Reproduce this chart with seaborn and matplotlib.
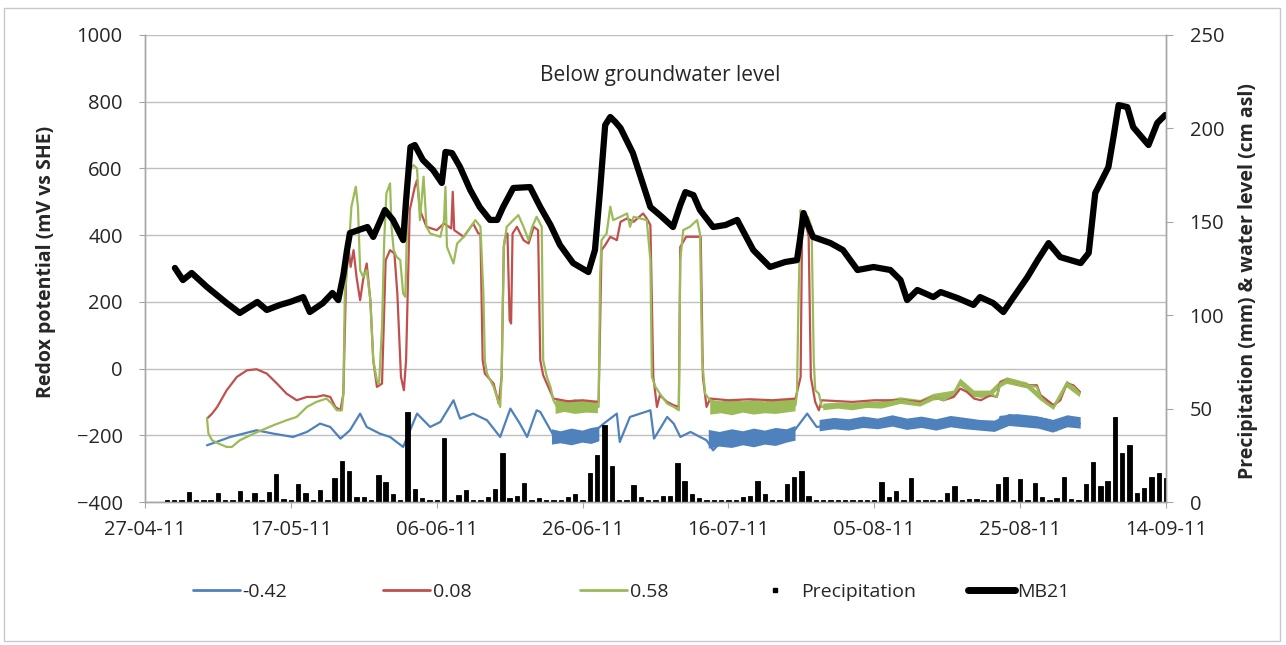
import numpy as np
import pandas as pd
import matplotlib
matplotlib.use("Agg")
import matplotlib.pyplot as plt
import matplotlib.dates as mdates
from matplotlib.lines import Line2D
from matplotlib.patches import Rectangle
import seaborn as sns

START = pd.Timestamp("2011-04-27")
nan = np.nan

# redox traces, (days after 27-04-11, mV vs SHE)
blue_trace = [
    (8.5, -230), (9.8, -220), (11.7, -205), (15.3, -185), (17.6, -195), (20.3, -205), (22.2, -190), (24.0, -165),
    (25.4, -175), (26.8, -210), (28.1, -185), (29.5, -135), (30.4, -175), (32.2, -195), (33.6, -205), (35.4, -235),
    (37.3, -135), (39.1, -175), (40.5, -160), (42.3, -95), (43.2, -150), (45.0, -135), (46.9, -155), (48.7, -205),
    (50.1, -120), (51.4, -165), (52.4, -205), (53.7, -125), (54.2, -130), (56.0, -200), (58.8, -205), (61.0, -200),
    (62.9, -165), (64.7, -135), (65.1, -220), (66.5, -145), (69.3, -125), (69.8, -210), (71.6, -145), (72.5, -165),
    (73.4, -205), (74.8, -190), (77.0, -215), (77.9, -245), (79.8, -200), (82.5, -210), (86.2, -200), (88.9, -190),
    (90.8, -135), (92.1, -175), (94.0, -170), (99.9, -165), (103.6, -150), (106.3, -165), (109.0, -170), (111.3, -150),
    (113.6, -170), (116.8, -175), (117.3, -145), (119.6, -140), (121.8, -145), (124.1, -155), (125.0, -185),
    (126.4, -145), (128.2, -165),
]
red_trace = [
    (8.5, -150), (9.2, -135), (9.9, -115), (11.2, -65), (12.6, -25), (14.0, -5), (15.3, -2), (16.7, -15), (18.1, -45),
    (19.4, -75), (20.8, -95), (22.2, -85), (23.5, -85), (24.5, -80), (25.4, -85), (26.1, -115), (26.8, -125),
    (27.2, -75), (27.6, 295), (27.9, 365), (28.2, 305), (28.6, 355), (29.0, 275), (29.5, 205), (29.9, 265), (30.4, 315),
    (30.9, 205), (31.3, 25), (31.8, -55), (32.5, -45), (33.0, 325), (33.6, 355), (34.2, 345), (34.6, 225), (35.1, -25),
    (35.5, -65), (35.8, 25), (36.3, 475), (37.0, 545), (37.3, 565), (37.7, 475), (38.6, 425), (40.0, 415), (41.0, 435),
    (42.0, 420), (42.2, 530), (42.4, 415), (43.7, 395), (45.0, 435), (45.7, 405), (46.0, 405), (46.3, 25), (46.6, -15),
    (47.8, -45), (48.5, -105), (48.9, -25), (49.2, 365), (49.4, 395), (49.7, 405), (50.0, 145), (50.2, 135),
    (50.4, 405), (51.0, 425), (51.9, 385), (52.6, 375), (53.3, 425), (53.9, 415), (54.2, 25), (54.6, -20), (55.1, -45),
    (55.6, -70), (56.0, -90), (58.0, -98), (60.0, -95), (62.2, -100), (62.6, 355), (63.1, 370), (63.8, 395),
    (64.7, 385), (65.2, 440), (66.1, 450), (67.0, 440), (68.3, 465), (68.8, 450), (69.3, 430), (69.7, -25),
    (70.2, -115), (70.6, -80), (71.6, -100), (72.5, -110), (73.2, -115), (73.4, 365), (74.2, 395), (75.7, 395),
    (76.2, 395), (76.5, -25), (77.0, -115), (77.5, -90), (80.0, -95), (83.0, -92), (86.0, -95), (89.2, -90),
    (89.9, -25), (90.1, 425), (90.5, 445), (91.0, 395), (91.3, -25), (91.9, -100), (92.4, -125), (92.8, -95),
    (97.0, -100), (100.0, -95), (103.6, -95), (106.3, -100), (108.1, -85), (109.5, -95), (110.9, -85), (111.8, -60),
    (112.7, -70), (113.7, -90), (114.6, -95), (115.9, -80), (116.8, -85), (117.3, -40), (118.2, -35), (119.6, -45),
    (121.0, -50), (122.3, -50), (122.8, -80), (123.7, -95), (124.6, -110), (125.5, -95), (126.4, -45), (127.3, -50),
    (128.2, -70),
]
green_trace = [
    (8.5, -150), (8.7, -195), (9.2, -215), (10.1, -225), (11.2, -235), (11.9, -235), (13.0, -215), (14.9, -195),
    (17.6, -170), (19.4, -155), (20.8, -145), (22.2, -115), (23.5, -100), (24.9, -90), (25.6, -105), (26.3, -125),
    (27.0, -125), (27.2, -75), (27.4, 225), (27.9, 345), (28.3, 485), (28.9, 545), (29.2, 485), (29.5, 295),
    (29.9, 275), (30.4, 295), (30.9, 205), (31.3, 25), (31.8, -35), (32.1, -45), (32.5, 125), (32.8, 385), (33.1, 525),
    (33.6, 555), (33.8, 425), (34.1, 355), (34.5, 335), (35.0, 325), (35.4, 225), (35.7, 215), (35.9, 400), (36.2, 590),
    (36.8, 610), (37.3, 600), (37.7, 445), (38.2, 575), (38.6, 425), (39.1, 405), (40.5, 395), (41.0, 445),
    (41.2, 545), (41.4, 365), (42.3, 315), (42.8, 375), (43.7, 395), (45.0, 435), (45.3, 445), (46.0, 425),
    (46.4, 225), (46.6, 25), (46.9, -15), (47.8, -55), (48.7, -115), (48.9, -25), (49.2, 365), (49.6, 425),
    (50.5, 445), (51.2, 460), (51.9, 425), (52.6, 385), (53.1, 425), (53.7, 455), (54.4, 425), (54.6, 25), (55.1, -25),
    (55.6, -55), (56.0, -95), (56.5, -115), (58.0, -112), (60.0, -115), (62.2, -115), (62.4, 275), (62.6, 385),
    (63.3, 405), (63.8, 485), (64.2, 445), (65.2, 455), (66.1, 465), (66.5, 425), (67.0, 455), (67.9, 450),
    (68.8, 445), (69.3, 325), (69.5, -25), (70.0, -55), (70.6, -75), (71.6, -105), (72.5, -115), (73.2, -125),
    (73.4, 325), (73.8, 415), (74.7, 425), (75.7, 445), (76.1, 405), (76.4, 25), (76.8, -75), (77.5, -95),
    (80.0, -115), (83.0, -118), (86.0, -115), (89.2, -110), (89.4, -75), (89.6, 195), (89.9, 475), (90.1, 455),
    (90.5, 425), (90.9, 455), (91.4, 425), (91.7, 25), (91.9, -65), (92.4, -75), (92.8, -115), (97.0, -115),
    (100.0, -110), (103.6, -95), (106.3, -105), (108.1, -85), (109.5, -95), (110.9, -75), (111.8, -40), (112.7, -55),
    (113.7, -75), (114.6, -85), (115.9, -75), (116.8, -85), (117.3, -45), (118.2, -35), (119.6, -45), (121.0, -50),
    (122.3, -55), (122.8, -85), (123.7, -105), (124.6, -115), (125.5, -85), (126.4, -45), (127.3, -55), (128.2, -75),
]

# noisy stretches of the logger signal (envelope low / high, mV)
blue_band_day = [55.8, 57.0, 58.5, 60.0, 61.2, 62.3, nan,
                 77.3, 78.8, 80.5, 82.0, 83.5, 85.0, 86.5, 88.0, 89.2, nan,
                 92.5, 94.5, 96.5, 98.5, 100.5, 102.5, 104.5, 106.5, 108.5, 110.5,
                 112.5, 114.5, 116.5, 118.5, 120.5, 122.5, 124.5, 126.5, 128.3]
blue_band_lo = [-228, -224, -230, -222, -226, -218, nan,
                -240, -234, -238, -230, -236, -228, -232, -222, -216, nan,
                -188, -182, -186, -178, -182, -174, -184, -178, -186, -176,
                -182, -186, -190, -172, -176, -180, -192, -176, -180]
blue_band_hi = [-182, -188, -180, -186, -178, -174, nan,
                -184, -190, -182, -188, -180, -186, -178, -182, -172, nan,
                -154, -148, -152, -144, -150, -140, -150, -144, -152, -142,
                -148, -154, -156, -136, -142, -144, -154, -140, -146]
green_band_day = [56.3, 57.5, 59.0, 60.5, 62.1, nan,
                  77.5, 79.0, 80.5, 82.0, 83.5, 85.0, 86.5, 89.2, nan,
                  93.0, 95.0, 97.0, 99.0, 101.0, 103.6, 106.3, 108.1, 110.9, 111.8,
                  113.7, 115.9, 117.3, 118.2, 121.0, 122.8, 124.6, 126.4, 128.2]
green_band_lo = [-136, -130, -136, -132, -134, nan,
                 -138, -134, -140, -132, -138, -134, -136, -128, nan,
                 -125, -120, -125, -118, -120, -106, -114, -96, -86, -52,
                 -86, -86, -56, -46, -60, -96, -124, -56, -86]
green_band_hi = [-94, -98, -92, -98, -96, nan,
                 -94, -98, -92, -98, -94, -98, -92, -92, nan,
                 -105, -102, -104, -100, -98, -86, -94, -76, -66, -30,
                 -66, -66, -36, -26, -42, -76, -106, -36, -66]

# MB21 water level (cm asl)
mb21_day = [4.1, 5.2, 6.4, 8.5, 11.2, 13.0, 15.4, 16.7, 18.5, 19.9,
            21.7, 22.6, 24.4, 25.7, 26.5, 27.2, 27.7, 28.1, 30.5, 31.3,
            32.9, 34.0, 35.4, 35.8, 36.4, 37.0, 38.1, 39.5, 40.7, 41.2,
            42.1, 43.2, 44.6, 45.9, 47.3, 48.3, 49.1, 50.5, 52.8, 54.2,
            55.6, 56.9, 58.7, 60.8, 61.7, 62.4, 63.1, 63.8, 64.5, 65.2,
            66.9, 69.3, 70.6, 72.4, 73.4, 74.1, 75.2, 76.1, 77.9, 79.6,
            81.2, 83.4, 85.7, 87.8, 89.4, 89.8, 90.3, 90.9, 91.6, 94.0,
            95.7, 97.7, 99.9, 102.2, 103.6, 104.5, 105.9, 108.1, 109.1, 111.4,
            113.6, 114.5, 116.3, 117.7, 119.1, 121.0, 122.4, 123.9, 125.5, 128.3,
            129.4, 130.3, 132.1, 132.8, 133.5, 134.7, 135.5, 137.6, 138.8, 139.9]
mb21_cm = [125.3, 118.8, 122.6, 115.1, 106.5, 101.2, 107.1, 102.8, 105.5, 107.1,
           109.7, 101.7, 106.5, 111.9, 108.1, 121.5, 134.9, 144.0, 147.2, 141.9,
           156.3, 151.0, 140.2, 161.7, 190.0, 191.1, 183.1, 177.7, 170.8, 187.4,
           186.8, 179.3, 167.0, 157.9, 151.0, 151.0, 157.9, 168.1, 168.6, 157.9,
           148.3, 137.6, 127.9, 123.1, 134.9, 167.0, 201.8, 206.1, 203.4, 200.2,
           186.8, 157.9, 153.6, 147.2, 159.0, 165.9, 164.3, 156.3, 147.2, 148.3,
           151.0, 134.9, 125.8, 128.5, 129.5, 140.2, 154.7, 148.3, 141.9, 138.6,
           134.9, 124.2, 125.8, 124.2, 118.8, 108.1, 113.5, 109.7, 112.4, 109.2,
           105.5, 109.7, 106.5, 101.7, 109.7, 120.4, 129.5, 138.6, 131.1, 127.9,
           133.3, 165.4, 179.3, 195.4, 212.5, 211.4, 200.7, 191.1, 202.9, 207.2]

# daily precipitation (mm), 30-04-11 .. 14-09-11
precip_mm = [1.2, 1.2, 1.2, 5.4, 1.2, 1.2, 1.2, 5.0, 1.2, 1.2,        # 30-04 ..
             5.7, 1.2, 5.0, 1.2, 5.4, 15.2, 1.8, 1.2, 9.8, 5.0,
             1.2, 6.6, 1.2, 12.8, 21.9, 16.6, 2.7, 2.7, 1.2, 14.3,
             10.7, 4.5, 1.2, 48.2, 6.8, 2.3, 1.2, 1.2, 34.3, 1.2,
             3.9, 6.2, 1.2, 1.2, 2.7, 7.1, 26.4, 2.3, 3.0, 10.4,
             1.2, 2.0, 1.2, 1.2, 1.2, 2.7, 4.5, 1.2, 15.5, 25.0,
             41.0, 19.1, 1.2, 1.2, 9.3, 2.7, 1.2, 1.2, 3.2, 3.2,
             21.1, 11.2, 4.5, 2.3, 1.2, 1.2, 1.2, 1.2, 1.2, 2.7,
             3.0, 11.1, 4.1, 1.2, 1.2, 9.5, 13.4, 16.4, 3.0, 1.2,
             1.2, 1.2, 1.2, 1.2, 1.2, 1.2, 1.2, 1.2, 10.7, 2.7,
             5.9, 1.2, 13.0, 1.2, 1.2, 1.2, 1.2, 5.0, 8.6, 1.2,
             1.8, 1.4, 1.2, 1.2, 9.5, 13.4, 1.2, 12.1, 1.2, 10.4,
             2.7, 1.2, 2.3, 13.4, 1.4, 1.2, 9.5, 21.6, 8.6, 11.2,
             45.5, 26.1, 30.3, 4.6, 7.3, 13.6, 15.7, 13.0]
precip_dates = pd.date_range("2011-04-30", periods=len(precip_mm), freq="D")

date_ticks = pd.date_range("2011-04-27", "2011-09-14", freq="20D")

BLUE, RED, GREEN = "#4F81BD", "#C0504D", "#9BBB59"
GRID = "#bfbfbf"
TXT = "#262626"


def to_dates(days):
    return START + pd.to_timedelta(np.asarray(days, dtype=float), unit="D")


def trace(ax, pts, color, lw):
    d, v = zip(*pts)
    sns.lineplot(x=to_dates(d), y=list(v), ax=ax, color=color, linewidth=lw,
                 estimator=None, sort=False, legend=False)


sns.set_style("white")
plt.rcParams["font.family"] = ["Open Sans", "DejaVu Sans"]

W, H = 1286, 645
fig = plt.figure(figsize=(W / 100, H / 100), dpi=100)
fig.patches.append(Rectangle((4 / W, 4 / H), 1 - 10 / W, 1 - 12 / H, transform=fig.transFigure,
                             fill=False, edgecolor="#c8c8c8", lw=1))
ax = fig.add_axes([145 / W, 1 - 502 / H, (1166 - 145) / W, (502 - 35) / H])
ax2 = ax.twinx()

# redox lines on the primary axis
trace(ax, blue_trace, BLUE, 1.6)
ax.fill_between(to_dates(blue_band_day), blue_band_lo, blue_band_hi, color=BLUE, lw=0)
trace(ax, red_trace, RED, 1.6)
trace(ax, green_trace, GREEN, 1.6)
ax.fill_between(to_dates(green_band_day), green_band_lo, green_band_hi, color=GREEN, lw=0)

# precipitation + MB21 on the secondary axis
ax2.bar(precip_dates, precip_mm, width=0.6, color="black", edgecolor="black", lw=0.6, align="center")
sns.lineplot(x=to_dates(mb21_day), y=mb21_cm, ax=ax2, color="black", linewidth=4.5,
             estimator=None, sort=False, legend=False)

ax.set_ylim(-400, 1000)
ax.set_yticks(range(-400, 1001, 200))
ax2.set_ylim(0, 250)
ax2.set_yticks(range(0, 251, 50))
ax.set_xlim(date_ticks[0], date_ticks[-1])
ax.set_xticks(date_ticks)
ax.xaxis.set_major_formatter(mdates.DateFormatter("%d-%m-%y"))

ax.yaxis.grid(True, color=GRID, lw=1)
ax.set_axisbelow(True)
for a in (ax, ax2):
    a.spines["top"].set_visible(False)
    for s in ("left", "right", "bottom"):
        a.spines[s].set_color("#a6a6a6")
        a.spines[s].set_linewidth(1)
ax.tick_params(axis="y", direction="out", length=4, color="#a6a6a6", pad=12, labelsize=14.5, labelcolor=TXT, left=True)
ax.tick_params(axis="x", direction="out", length=4, color="#a6a6a6", pad=9, labelsize=14.5, labelcolor=TXT, bottom=True)
ax2.tick_params(axis="y", direction="out", length=5, color="#a6a6a6", pad=12, labelsize=14.5, labelcolor=TXT, right=True)

ax.set_ylabel("Redox potential (mV vs SHE)", fontsize=14, fontweight="bold", color=TXT)
ax.yaxis.set_label_coords((56 - 145) / 1021, 0.514)
ax2.set_ylabel("Precipitation (mm) & water level (cm asl)", fontsize=14, fontweight="bold", color=TXT)
ax2.yaxis.set_label_coords((1238 - 145) / 1021, 0.473)
ax.set_xlabel("")

fig.text(660 / W, 1 - 75 / H, "Below groundwater level", ha="center", va="center", fontsize=15, color=TXT)

# legend entries spaced like the original
entries = [
    (Line2D([], [], color=BLUE, lw=2), "-0.42", 193),
    (Line2D([], [], color=RED, lw=2), "0.08", 383),
    (Line2D([], [], color=GREEN, lw=2), "0.58", 580),
    (Line2D([], [], color="black", marker="s", markersize=3.5, ls="None"), "Precipitation", 752),
    (Line2D([], [], color="black", lw=5), "MB21", 968),
]
for h, lab, x0 in entries:
    fig.legend(handles=[h], labels=[lab], loc="center left", bbox_to_anchor=(x0 / W, 1 - 592 / H),
               frameon=False, fontsize=14, handlelength=2.4, handletextpad=0.15,
               borderpad=0, borderaxespad=0, labelcolor=TXT)

fig.savefig("out.png", dpi=100)
